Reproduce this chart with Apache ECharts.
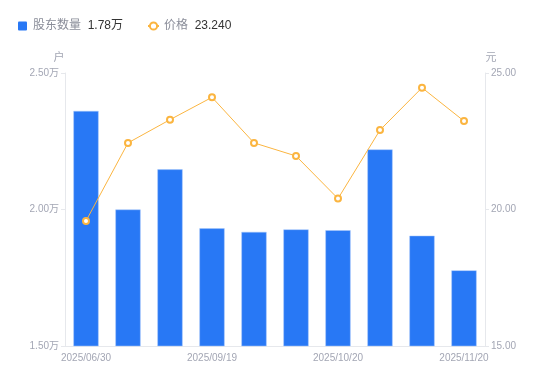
<!DOCTYPE html>
<html><head><meta charset="utf-8">
<script src="https://cdn.jsdelivr.net/npm/echarts@6/dist/echarts.min.js"></script>
<style>html,body{margin:0;padding:0;background:#fff}#c{width:550px;height:381px}</style>
</head><body><div id="c"></div>
<script>
const categories = ['2025/06/30','2025/08/31','2025/09/10','2025/09/19','2025/09/30','2025/10/10','2025/10/20','2025/10/31','2025/11/10','2025/11/20'];
const holders = [2.361, 2.000, 2.147, 1.931, 1.918, 1.927, 1.924, 2.220, 1.904, 1.777];
const prices = [19.58, 22.44, 23.29, 24.11, 22.44, 21.96, 20.40, 22.91, 24.46, 23.24];
const leftTicks = {min: 1.5, max: 2.5, interval: 0.5};
const rightTicks = {min: 15, max: 25, interval: 5};
const legendValues = {'股东数量': '1.78万', '价格': '23.240'};

const FF = '"Liberation Sans", Arial, "Noto Sans CJK SC", sans-serif';
const chart = echarts.init(document.getElementById('c'));
const labelColor = '#a3a6b4';
const lineColor = '#e6e8ec';
chart.setOption({
  animation: false,
  textStyle: {fontFamily: FF},
  legend: {
    left: 13, top: 15, itemGap: 24, itemWidth: 11, itemHeight: 9,
    data: [{name: '股东数量', icon: 'path://M1,0 H8 Q9,0 9,1 V8 Q9,9 8,9 H1 Q0,9 0,8 V1 Q0,0 1,0 Z', itemStyle: {borderWidth: 0}}, {name: '价格'}],
    formatter: n => `{n|${n}}  {v|${legendValues[n]}}`,
    textStyle: {rich: {
      n: {color: '#8a8d99', fontSize: 12, fontFamily: FF},
      v: {color: '#333', fontSize: 12, fontFamily: FF}
    }}
  },
  grid: {left: 65, right: 65, top: 73, bottom: 35},
  xAxis: {
    type: 'category', data: categories,
    axisLine: {lineStyle: {color: lineColor}},
    axisTick: {show: false},
    axisLabel: {interval: 2, color: labelColor, fontSize: 10, margin: 7, fontFamily: FF}
  },
  yAxis: [{
    type: 'value', name: '户', nameGap: 10,
    nameTextStyle: {color: labelColor, fontSize: 11, padding: [0, 0, 0, -12], fontFamily: FF},
    min: leftTicks.min, max: leftTicks.max, interval: leftTicks.interval,
    axisLine: {show: true, lineStyle: {color: lineColor}},
    axisTick: {show: true, length: 4, lineStyle: {color: lineColor}},
    splitLine: {show: false},
    axisLabel: {color: labelColor, fontSize: 10, margin: 6, fontFamily: FF, formatter: v => v.toFixed(2) + '万'}
  }, {
    type: 'value', name: '元', nameGap: 10,
    nameTextStyle: {color: labelColor, fontSize: 11, padding: [0, 0, 0, 12], fontFamily: FF},
    min: rightTicks.min, max: rightTicks.max, interval: rightTicks.interval,
    axisLine: {show: true, lineStyle: {color: lineColor}},
    axisTick: {show: true, length: 4, lineStyle: {color: lineColor}},
    splitLine: {show: false},
    axisLabel: {color: labelColor, fontSize: 10, margin: 6, fontFamily: FF, formatter: v => v.toFixed(2)}
  }],
  series: [{
    name: '股东数量', type: 'bar', data: holders, yAxisIndex: 0, barWidth: '60%',
    itemStyle: {color: '#2878f5', borderColor: '#a9c8fa', borderWidth: 0.5}
  }, {
    name: '价格', type: 'line', data: prices, yAxisIndex: 1,
    symbol: 'emptyCircle', symbolSize: 6,
    lineStyle: {color: '#fbb540', width: 1},
    itemStyle: {color: '#fbb540', borderWidth: 2}
  }]
});
</script></body></html>
